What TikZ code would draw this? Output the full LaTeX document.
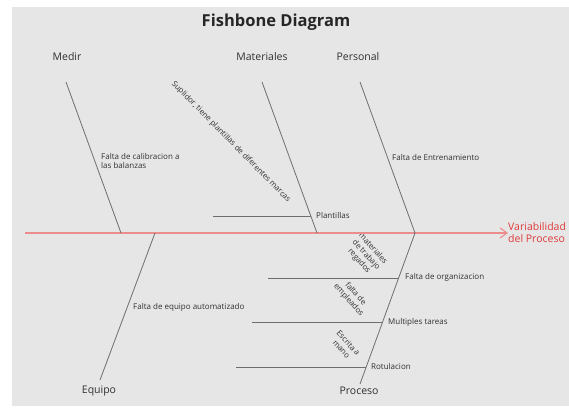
\documentclass[tikz,border=0pt]{standalone}
\usepackage{fontspec}
\setmainfont{Open Sans}
\usetikzlibrary{arrows.meta}
\definecolor{bggray}{HTML}{E6E6E6}
\definecolor{bonegray}{HTML}{6E6E6E}
\definecolor{spinered}{HTML}{EC8C8C}
\definecolor{effectred}{HTML}{E03A3A}
\definecolor{txtgray}{HTML}{303030}

\begin{document}
\begin{tikzpicture}[
  x=1pt, y=-1pt,
  cat/.style={font=\fontsize{10.5}{12}\selectfont, text=txtgray, inner sep=0pt},
  cause/.style={font=\fontsize{8}{9}\selectfont, text=txtgray, anchor=west, align=left, inner sep=0pt},
  note/.style={font=\fontsize{7.8}{9.2}\selectfont, text=txtgray, align=center, inner sep=0pt, rotate=-48},
  bone/.style={draw=bonegray, line width=0.8pt},
  spine/.style={draw=spinered, line width=1.3pt, -{Straight Barb[length=7pt, width=10pt, line width=1.1pt]}}
]

% Frame
\useasboundingbox (0,0) rectangle (569,407);
\fill[bggray] (12,7) rectangle (569,406);

% Title
\node[font=\fontsize{16.5}{19}\selectfont\bfseries, text=black!85] (title) at (276,22) {Fishbone Diagram};

% Categories
\node[cat] (medir) at (67,57) {Medir};
\node[cat] (materiales) at (262,57) {Materiales};
\node[cat] (personal) at (358,57) {Personal};
\node[cat] (equipo) at (99,391) {Equipo};
\node[cat] (proceso) at (359,391) {Proceso};

% Effect
\node[font=\fontsize{10.5}{12}\selectfont, text=effectred, align=left, anchor=west, inner sep=0pt] (effect) at (508,233) {Variabilidad\\del Proceso};

% Bone ends
\coordinate (tail) at (25,233);
\coordinate (medir top) at (66,82);
\coordinate (medir bot) at (121,233);
\coordinate (mat top) at (262,82);
\coordinate (mat bot) at (317,233);
\coordinate (pers top) at (360,82);
\coordinate (pers bot) at (415,233);
\coordinate (equipo top) at (155,233);
\coordinate (equipo bot) at (100,380);
\coordinate (proc top) at (415,233);
\coordinate (proc bot) at (360,384);

% Sub-branch ends
\coordinate (plant a) at (213,216);
\coordinate (plant b) at (311,216);
\coordinate (org a) at (268,278);
\coordinate (org b) at (399,278);
\coordinate (tareas a) at (252,322);
\coordinate (tareas b) at (383,322);
\coordinate (rot a) at (236,367);
\coordinate (rot b) at (366,367);

% Causes
\node[cause] (calib) at (101,161) {Falta de calibracion a\\las balanzas};
\node[cause] (entren) at (392,157) {Falta de Entrenamiento};
\node[cause] (plant) at (316,215) {Plantillas};
\node[cause] (auto) at (133,307) {Falta de equipo automatizado};
\node[cause] (org) at (405,277) {Falta de organizacion};
\node[cause] (tareas) at (388,322) {Multiples tareas};
\node[cause] (rot) at (371,366) {Rotulacion};

% Rotated notes
\node[note, rotate=2.5] (suplidor) at (231,142) {Suplidor, tiene plantillas de diferentes marcas};
\node[note] (regados) at (366,255) {materiales\\de trabajo\\regados};
\node[note] (empleados) at (352,297) {falta de\\empleados};
\node[note] (mano) at (345,346) {Escrita a\\mano};

% Bones
\draw[spine] (tail) -- (effect.west);
\draw[bone] (medir top) -- (medir bot);
\draw[bone] (mat top) -- (mat bot);
\draw[bone] (pers top) -- (pers bot);
\draw[bone] (equipo top) -- (equipo bot);
\draw[bone] (proc top) -- (proc bot);
\draw[bone] (plant a) -- (plant b);
\draw[bone] (org a) -- (org b);
\draw[bone] (tareas a) -- (tareas b);
\draw[bone] (rot a) -- (rot b);

\end{tikzpicture}
\end{document}
